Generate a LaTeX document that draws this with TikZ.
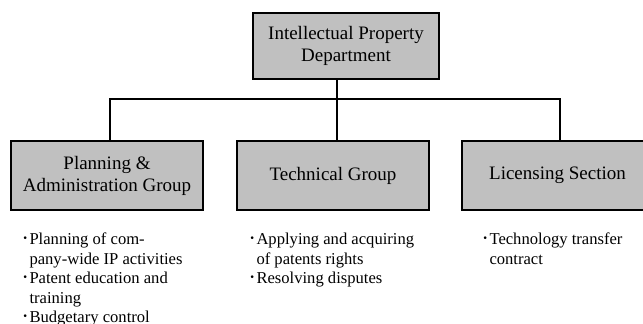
\documentclass[tikz,border=0pt]{standalone}
\usepackage{fontspec}
\setmainfont{Liberation Serif}
\newfontfamily\cjk{Noto Sans CJK JP}
\usepackage{tikz}
\definecolor{boxgray}{RGB}{192,192,192}
\newcommand{\bul}{{\cjk ･}}
\newcommand{\nob}{\phantom{\bul}}

\begin{document}
\begin{tikzpicture}[x=1pt,y=-1pt,
    unit/.style={draw,fill=boxgray,line width=1.1pt,align=center,inner sep=0pt,
      font=\fontsize{19}{22}\selectfont},
    notes/.style={align=left,inner sep=0pt,anchor=north west,
      font=\fontsize{16.6}{19.5}\selectfont},
    wire/.style={line width=1.3pt}]
    \clip (0,0) rectangle (643,324);
    % boxes
    \node[unit,minimum width=186,minimum height=66] (ipd) at (346,46) {Intellectual Property\\Department};
    \node[unit,minimum width=192,minimum height=69] (pag) at (107,175.5) {Planning \&\\Administration Group};
    \node[unit,minimum width=192,minimum height=69] (tg) at (333,175.5) {Technical Group};
    \node[unit,minimum width=191,minimum height=69] (ls) at (557.5,175.5) {Licensing Section};
    % connectors
    \coordinate (busL) at (110,99);
    \coordinate (busM) at (337,99);
    \coordinate (busR) at (560,99);
    \draw[wire] (ipd.south -| busM)--(tg.north -| busM);
    \draw[wire] (pag.north -| busL)--(busL)--(busR)--(ls.north -| busR);
    % tasks
    \node[notes] (pagnotes) at (21,233) {\bul Planning of com-\\\nob pany-wide IP activities\\\bul Patent education and\\\nob training\\\bul Budgetary control};
    \node[notes] (tgnotes) at (248,233) {\bul Applying and acquiring\\\nob of patents rights\\\bul Resolving disputes};
    \node[notes] (lsnotes) at (481,233) {\bul Technology transfer\\\nob contract};
  \end{tikzpicture}
\end{document}
